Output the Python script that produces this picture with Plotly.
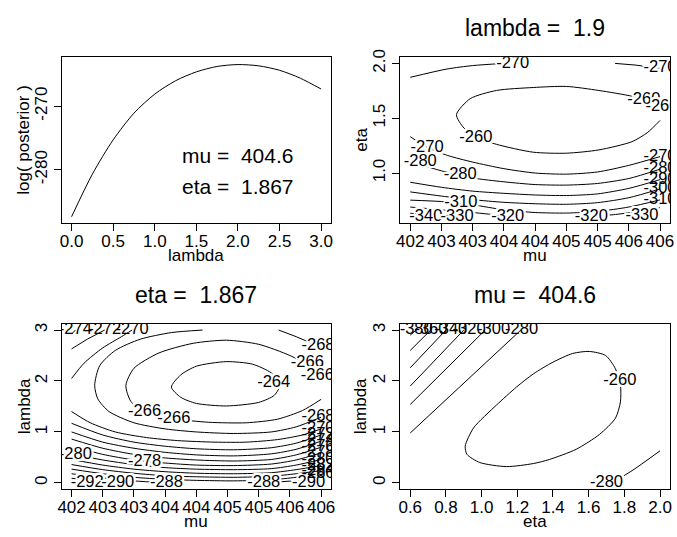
import plotly.graph_objects as go

W, H = 677, 537
FONT = "Liberation Sans, Arial, sans-serif"

# ---------------- data ----------------
# Panel 1: profile of log posterior over lambda (mu = 404.6, eta = 1.867)
lam_grid = [0.0, 0.25, 0.5, 0.75, 1.0, 1.25, 1.5, 1.75, 2.0, 2.25, 2.5, 2.75, 3.0]
log_post = [-287.4, -280.7, -275.3, -271.1, -268.1, -266.0, -264.6, -263.75, -263.45, -263.65, -264.35, -265.6, -267.3]
p1_x_ticks = [0.0, 0.5, 1.0, 1.5, 2.0, 2.5, 3.0]
p1_x_labels = ["0.0", "0.5", "1.0", "1.5", "2.0", "2.5", "3.0"]
p1_y_ticks = [-280, -270]
p1_y_labels = ["-280", "-270"]

mu_ticks = [402, 402.5, 403, 403.5, 404, 404.5, 405, 405.5, 406]
mu_labels = ["402", "403", "403", "404", "404", "405", "405", "406", "406"]
eta_ticks_p2 = [1.0, 1.5, 2.0]
eta_labels_p2 = ["1.0", "1.5", "2.0"]
lam_ticks = [0, 1, 2, 3]
lam_labels = ["0", "1", "2", "3"]
eta_ticks_p4 = [0.6, 0.8, 1.0, 1.2, 1.4, 1.6, 1.8, 2.0]
eta_labels_p4 = ["0.6", "0.8", "1.0", "1.2", "1.4", "1.6", "1.8", "2.0"]

# Panel 2: contours of log posterior over (mu, eta), lambda = 1.9
p2_lines = [
    (-260, [406.0, 405.8, 405.55, 405.02, 404.5, 403.97, 403.38, 403.05, 402.86, 402.74, 402.96, 403.38, 403.97, 404.5, 405.02, 405.55, 405.75, 406.0],
           [1.48, 1.37, 1.286, 1.211, 1.181, 1.19, 1.262, 1.33, 1.41, 1.533, 1.678, 1.753, 1.78, 1.79, 1.753, 1.70, 1.66, 1.58]),
    (-270, [402.0, 402.59, 403.0, 403.5], [1.873, 1.949, 1.98, 2.0]),
    (-270, [405.28, 405.6, 406.0], [2.0, 1.985, 1.955]),
    (-270, [402.0, 402.27, 402.6, 403.0, 403.5, 404.0, 404.5, 405.0, 405.5, 406.0],
           [1.332, 1.235, 1.16, 1.10, 1.04, 1.00, 0.99, 1.01, 1.07, 1.15]),
    (-280, [402.0, 402.5, 403.0, 403.5, 404.0, 404.5, 405.0, 405.5, 406.0],
           [1.106, 1.02, 0.955, 0.92, 0.895, 0.89, 0.905, 0.95, 1.035]),
    (-290, [402.0, 402.5, 403.0, 403.5, 404.0, 404.5, 405.0, 405.5, 406.0],
           [0.916, 0.87, 0.835, 0.815, 0.80, 0.795, 0.81, 0.86, 0.94]),
    (-300, [402.0, 402.5, 403.0, 403.5, 404.0, 404.5, 405.0, 405.5, 406.0],
           [0.828, 0.79, 0.757, 0.733, 0.72, 0.715, 0.73, 0.775, 0.855]),
    (-310, [402.0, 402.5, 403.0, 403.5, 404.0, 404.5, 405.0, 405.5, 406.0],
           [0.753, 0.74, 0.71, 0.665, 0.64, 0.635, 0.65, 0.69, 0.755]),
    (-320, [402.0, 402.5, 403.0, 403.5, 403.8], [0.69, 0.665, 0.64, 0.612, 0.60]),
    (-320, [404.8, 405.25, 405.6, 406.0], [0.60, 0.62, 0.645, 0.684]),
    (-330, [402.0, 402.5, 402.9], [0.633, 0.615, 0.60]),
    (-330, [405.6, 406.0], [0.60, 0.615]),
    (-340, [402.0, 402.25], [0.603, 0.60]),
]
# isolated contour labels (line broken under them)
p2_label_text = ["-270", "-270", "-260", "-260", "-260", "-270", "-280", "-280", "-310", "-340", "-330", "-320", "-320", "-330"]
p2_label_mu = [403.64, 406.0, 405.74, 406.03, 403.05, 402.27, 402.16, 402.8, 402.81, 402.25, 402.75, 403.56, 404.9, 405.71]
p2_label_eta = [1.994, 1.96, 1.666, 1.60, 1.32, 1.232, 1.10, 0.985, 0.729, 0.603, 0.603, 0.603, 0.603, 0.61]
# labels piled up against the right edge
p2_stack_text = ["-270", "-280", "-290", "-300", "-310"]
p2_stack_mu = [406.0, 406.0, 406.0, 406.0, 406.0]
p2_stack_eta = [1.15, 1.035, 0.94, 0.855, 0.755]

# Panel 3: contours over (mu, lambda), eta = 1.867
p3_lines = [
    (-264, [403.6, 403.75, 404.0, 404.48, 404.9, 405.2, 405.35, 405.25, 405.0, 404.48, 404.0, 403.75, 403.6],
           [1.88, 2.12, 2.29, 2.38, 2.33, 2.16, 1.95, 1.72, 1.58, 1.51, 1.56, 1.68, 1.88]),
    (-266, [406.0, 405.8, 405.5, 405.0, 404.48, 403.95, 403.4, 403.0, 402.87, 402.95, 403.17, 403.64, 404.2, 404.8, 405.3, 405.7, 406.0],
           [2.10, 2.30, 2.50, 2.72, 2.80, 2.74, 2.55, 2.25, 1.915, 1.60, 1.39, 1.26, 1.19, 1.18, 1.25, 1.42, 1.64]),
    (-268, [404.1, 403.6, 403.1, 402.7, 402.45, 402.37, 402.42, 402.6, 403.0, 403.5, 404.0, 404.6, 405.2, 405.6, 406.0],
           [3.0, 2.95, 2.82, 2.6, 2.3, 1.915, 1.65, 1.4, 1.18, 1.06, 1.0, 0.97, 1.0, 1.1, 1.29]),
    (-268, [405.32, 405.6, 406.0], [3.0, 2.87, 2.66]),
    (-270, [402.0, 402.2, 402.5, 402.8, 402.97], [2.05, 2.35, 2.65, 2.87, 3.0]),
    (-270, [402.0, 402.3, 402.7, 403.2, 403.7, 404.3, 404.8, 405.3, 405.7, 406.0],
           [1.40, 1.18, 1.0, 0.89, 0.83, 0.80, 0.80, 0.85, 0.94, 1.06]),
    (-272, [402.0, 402.25, 402.53], [2.63, 2.82, 3.0]),
    (-272, [402.0, 402.5, 403.0, 403.5, 404.0, 404.6, 405.2, 405.6, 406.0], [1.17, 0.94, 0.80, 0.72, 0.67, 0.65, 0.69, 0.78, 0.94]),
    (-274, [402.0, 402.06], [2.92, 3.0]),
    (-274, [402.0, 402.5, 403.0, 403.5, 404.0, 404.6, 405.2, 405.6, 406.0], [1.0, 0.80, 0.68, 0.60, 0.55, 0.53, 0.57, 0.66, 0.82]),
    (-276, [402.0, 402.5, 403.0, 403.5, 404.0, 404.6, 405.2, 405.6, 406.0], [0.86, 0.68, 0.56, 0.49, 0.45, 0.43, 0.46, 0.55, 0.70]),
    (-278, [402.0, 402.5, 403.0, 403.5, 404.0, 404.6, 405.2, 405.6, 406.0], [0.72, 0.56, 0.45, 0.39, 0.35, 0.34, 0.37, 0.45, 0.59]),
    (-280, [402.0, 402.5, 403.0, 403.5, 404.0, 404.6, 405.2, 405.6, 406.0], [0.57, 0.45, 0.36, 0.30, 0.27, 0.26, 0.28, 0.35, 0.46]),
    (-282, [402.0, 402.5, 403.0, 403.5, 404.0, 404.6, 405.2, 405.6, 406.0], [0.46, 0.35, 0.27, 0.22, 0.19, 0.18, 0.20, 0.26, 0.34]),
    (-284, [402.0, 402.5, 403.0, 403.5, 404.0, 404.6, 405.2, 405.6, 406.0], [0.36, 0.26, 0.19, 0.14, 0.12, 0.11, 0.13, 0.18, 0.24]),
    (-286, [402.0, 402.5, 403.0, 403.5, 404.0, 404.6, 405.2, 405.6, 406.0], [0.27, 0.18, 0.11, 0.07, 0.05, 0.04, 0.06, 0.11, 0.17]),
    (-288, [402.0, 402.5, 403.0, 403.5], [0.18, 0.10, 0.04, 0.0]),
    (-288, [405.1, 405.6, 406.0], [0.0, 0.04, 0.08]),
    (-290, [402.0, 402.5, 402.75], [0.09, 0.03, 0.0]),
    (-290, [405.8, 406.0], [0.0, 0.02]),
    (-292, [402.0, 402.25], [0.01, 0.0]),
]
p3_label_text = ["-268", "-266", "-266", "-264", "-266", "-266", "-280", "-278",
                 "-292", "-290", "-288", "-288", "-290"]
p3_label_mu = [405.95, 405.78, 405.94, 405.24, 403.17, 403.64, 402.06, 403.17,
               402.25, 402.74, 403.52, 405.08, 405.8]
p3_label_lam = [2.68, 2.35, 2.10, 1.97, 1.387, 1.257, 0.55, 0.42,
                0.0, 0.0, 0.0, 0.0, 0.0]
p3_stack_text = ["-274", "-272", "-270",
                 "-268", "-270", "-272", "-274", "-276", "-278", "-280", "-282", "-284", "-286"]
p3_stack_mu = [402.06, 402.53, 402.97,
               405.95, 405.95, 405.95, 405.95, 405.95, 405.95, 405.95, 405.95, 405.95, 405.95]
p3_stack_lam = [3.0, 3.0, 3.0,
                1.29, 1.06, 0.94, 0.82, 0.70, 0.59, 0.46, 0.34, 0.24, 0.17]

# Panel 4: contours over (eta, lambda), mu = 404.6
p4_lines = [
    (-260, [0.908, 0.955, 1.084, 1.195, 1.29, 1.40, 1.51, 1.603, 1.695, 1.75, 1.778, 1.778, 1.75, 1.66, 1.53, 1.38, 1.29, 1.14, 0.99, 0.918, 0.908],
           [0.72, 1.08, 1.53, 1.88, 2.14, 2.37, 2.54, 2.58, 2.50, 2.24, 1.92, 1.59, 1.27, 0.95, 0.66, 0.46, 0.38, 0.32, 0.40, 0.56, 0.72]),
    (-280, [1.70, 1.75, 1.843, 2.0], [0.0, 0.05, 0.24, 0.63]),
    (-280, [0.6, 0.9, 1.22], [0.98, 1.96, 3.0]),
    (-300, [0.6, 0.81, 1.02], [1.54, 2.27, 3.0]),
    (-320, [0.6, 0.75, 0.9], [1.90, 2.45, 3.0]),
    (-340, [0.6, 0.7, 0.8], [2.26, 2.63, 3.0]),
    (-360, [0.6, 0.715], [2.60, 3.0]),
    (-380, [0.6, 0.633], [2.90, 3.0]),
]
p4_label_text = ["-260", "-280"]
p4_label_eta = [1.775, 1.70]
p4_label_lam = [2.0, 0.0]
p4_stack_text = ["-380", "-360", "-340", "-320", "-300", "-280"]
p4_stack_eta = [0.633, 0.716, 0.827, 0.93, 1.067, 1.224]
p4_stack_lam = [3.0, 3.0, 3.0, 3.0, 3.0, 3.0]

titles = ["lambda =\u00a0 1.9", "eta =\u00a0 1.867", "mu =\u00a0 404.6"]
p1_notes = ["mu =\u00a0 404.6", "eta =\u00a0 1.867"]
p1_note_x = [2.0, 2.0]
p1_note_y = [-277.7, -282.6]

# ---------------- layout geometry (pixels) ----------------
LEFT_COL = (58.3, 331.0)
RIGHT_COL = (401.0, 674.0)
TOP_ROW = (50.0, 218.3)
BOT_ROW = (320.7, 488.3)


def xdom(c):
    return [c[0] / W, c[1] / W]


def ydom(r):
    return [1 - r[1] / H, 1 - r[0] / H]


fig = go.Figure()

# white halo around isolated labels breaks the contour line beneath them (as R's contour() does)
_offs = [(1, 0), (-1, 0), (0, 1), (0, -1), (2, 0), (-2, 0), (0, 2), (0, -2),
         (1, 1), (-1, -1), (1, -1), (-1, 1), (2, 2), (-2, -2), (2, -2), (-2, 2)]
HALO = ", ".join(f"white {dx}px {dy}px 0px" for dx, dy in _offs)
halo_label_font = dict(family=FONT, size=16.5, color="black", shadow=HALO)
plain_label_font = dict(family=FONT, size=16.5, color="black")

# panel 1
fig.add_trace(go.Scatter(x=lam_grid, y=log_post, mode="lines", line=dict(color="black", width=1, shape="spline", smoothing=0.8),
                         xaxis="x", yaxis="y", showlegend=False, hoverinfo="skip"))


def add_contours(lines, xa, ya):
    for lvl, xs, ys in lines:
        shape = "spline" if len(xs) > 3 else "linear"
        fig.add_trace(go.Scatter(x=xs, y=ys, mode="lines",
                                 line=dict(color="black", width=1, shape=shape, smoothing=0.7),
                                 xaxis=xa, yaxis=ya, showlegend=False, hoverinfo="skip"))


def add_labels(texts, xs, ys, xa, ya, font):
    fig.add_trace(go.Scatter(x=xs, y=ys, mode="text", text=texts, textposition="middle center",
                             textfont=font, xaxis=xa, yaxis=ya, showlegend=False, hoverinfo="skip",
                             cliponaxis=True))


add_contours(p2_lines, "x2", "y2")
add_labels(p2_label_text, p2_label_mu, p2_label_eta, "x2", "y2", halo_label_font)
add_labels(p2_stack_text, p2_stack_mu, p2_stack_eta, "x2", "y2", plain_label_font)
add_contours(p3_lines, "x3", "y3")
add_labels(p3_label_text, p3_label_mu, p3_label_lam, "x3", "y3", halo_label_font)
add_labels(p3_stack_text, p3_stack_mu, p3_stack_lam, "x3", "y3", plain_label_font)
add_contours(p4_lines, "x4", "y4")
add_labels(p4_label_text, p4_label_eta, p4_label_lam, "x4", "y4", halo_label_font)
add_labels(p4_stack_text, p4_stack_eta, p4_stack_lam, "x4", "y4", plain_label_font)

tick_font = dict(family=FONT, size=17, color="black")
axis_common = dict(showline=True, mirror=True, linecolor="black", linewidth=1, ticks="outside", ticklen=7,
                   tickwidth=1, tickcolor="black", showgrid=False, zeroline=False, tickfont=tick_font)
xa_extra = dict(tickangle=0, ticklabelstandoff=-4)
ya_extra = dict(tickangle=-90)

fig.update_layout(
    width=W, height=H, margin=dict(l=0, r=0, t=0, b=0),
    paper_bgcolor="white", plot_bgcolor="white",
    font=dict(family=FONT, color="black"),
    xaxis=dict(domain=xdom(LEFT_COL), anchor="y", range=[-0.12, 3.12], tickmode="array",
               tickvals=p1_x_ticks, ticktext=p1_x_labels, **xa_extra, **axis_common),
    yaxis=dict(domain=ydom(TOP_ROW), anchor="x", range=[-288.4, -262.3], tickmode="array",
               tickvals=p1_y_ticks, ticktext=p1_y_labels, **ya_extra, **axis_common),
    xaxis2=dict(domain=xdom(RIGHT_COL), anchor="y2", range=[401.84, 406.16], tickmode="array",
                tickvals=mu_ticks, ticktext=mu_labels, **xa_extra, **axis_common),
    yaxis2=dict(domain=ydom(TOP_ROW), anchor="x2", range=[0.544, 2.056], tickmode="array",
                tickvals=eta_ticks_p2, ticktext=eta_labels_p2, **ya_extra, **axis_common),
    xaxis3=dict(domain=xdom(LEFT_COL), anchor="y3", range=[401.84, 406.16], tickmode="array",
                tickvals=mu_ticks, ticktext=mu_labels, **xa_extra, **axis_common),
    yaxis3=dict(domain=ydom(BOT_ROW), anchor="x3", range=[-0.12, 3.12], tickmode="array",
                tickvals=lam_ticks, ticktext=lam_labels, **ya_extra, **axis_common),
    xaxis4=dict(domain=xdom(RIGHT_COL), anchor="y4", range=[0.544, 2.056], tickmode="array",
                tickvals=eta_ticks_p4, ticktext=eta_labels_p4, **xa_extra, **axis_common),
    yaxis4=dict(domain=ydom(BOT_ROW), anchor="x4", range=[-0.12, 3.12], tickmode="array",
                tickvals=lam_ticks, ticktext=lam_labels, **ya_extra, **axis_common),
)

ann = []


def paper_text(text, px, py, size=17, angle=0):
    ann.append(dict(text=text, x=px / W, y=1 - py / H, xref="paper", yref="paper", showarrow=False,
                    xanchor="center", yanchor="middle", textangle=angle,
                    font=dict(family=FONT, size=size, color="black")))


# axis titles
paper_text("lambda", 194.7, 251)
paper_text("log( posterior )", 19, 134, angle=-90)
paper_text("mu", 537.5, 251)
paper_text("eta", 361, 134, angle=-90)
paper_text("mu", 194.7, 521)
paper_text("lambda", 21, 404.5, angle=-90)
paper_text("eta", 537.5, 521)
paper_text("lambda", 361, 404.5, angle=-90)

# panel titles
paper_text(titles[0], 537.5, 20, size=23)
paper_text(titles[1], 194.7, 291, size=23)
paper_text(titles[2], 537.5, 291, size=23)

for t, x, y in zip(p1_notes, p1_note_x, p1_note_y):
    ann.append(dict(text=t, x=x, y=y, xref="x", yref="y", showarrow=False, xanchor="center", yanchor="middle",
                    font=dict(family=FONT, size=21, color="black")))

fig.update_layout(annotations=ann)
fig.write_html("out.html")
